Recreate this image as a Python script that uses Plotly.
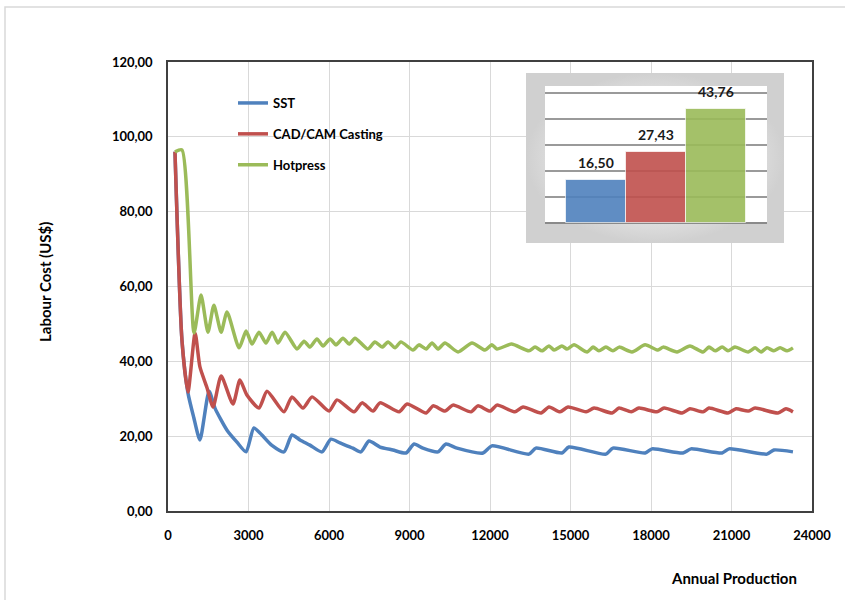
import plotly.graph_objects as go

# ---------------- data ----------------
sst_x = [260, 520, 745, 960, 1190, 1530, 1750, 2200, 2570, 2910, 3200, 3500, 3860, 4320,
         4620, 4920, 5290, 5740, 6070, 6410, 6890, 7190, 7490, 7900, 8380, 8870, 9170, 9500,
         10060, 10360, 10770, 11740, 12070, 13450, 13710, 14680, 14940, 16320, 16580, 17780,
         18040, 19190, 19490, 20650, 20910, 22320, 22580, 23290]
sst_y = [96.0, 45.7, 31.5, 25.0, 19.0, 32.0, 27.5, 21.6, 18.4, 15.8, 22.2, 20.3, 17.6, 15.8,
         20.3, 19.0, 17.6, 15.8, 19.2, 18.2, 16.8, 15.8, 18.7, 17.1, 16.3, 15.5, 17.9, 16.8,
         15.8, 17.9, 16.8, 15.5, 17.4, 15.2, 16.8, 15.5, 17.1, 15.2, 16.8, 15.5,
         16.6, 15.5, 16.6, 15.5, 16.6, 15.2, 16.3, 15.8]

cad_x = [260, 520, 745, 1010, 1190, 1450, 1680, 1980, 2420, 2680, 2940, 3390, 3690, 4320,
         4620, 5030, 5370, 6000, 6300, 6930, 7230, 7640, 7900, 8610, 8910, 9620, 9880, 10320,
         10620, 11290, 11550, 12000, 12260, 12930, 13230, 13900, 14200, 14610, 14910, 15580,
         15880, 16550, 16810, 17260, 17550, 18220, 18490, 19160, 19450, 19940, 20160, 20870,
         21170, 21620, 21880, 22730, 23030, 23290]
cad_y = [96.0, 45.7, 31.8, 47.6, 38.5, 33.0, 27.8, 36.1, 28.6, 35.0, 31.0, 27.5, 32.0, 26.5,
         30.5, 27.5, 30.5, 26.7, 29.7, 26.5, 28.9, 26.7, 28.9, 26.5, 28.6, 26.2, 28.1, 26.7,
         28.3, 26.5, 28.1, 26.7, 28.3, 26.5, 27.8, 26.2, 27.8, 26.5, 27.8, 26.5,
         27.5, 26.2, 27.5, 26.5, 27.5, 26.5, 27.5, 26.2, 27.3, 26.5, 27.5, 26.2,
         27.3, 26.7, 27.5, 26.2, 27.3, 26.5]

hot_x = [260, 520, 970, 1230, 1490, 1710, 1980, 2200, 2650, 2910, 3130, 3390, 3650, 3880,
         4100, 4360, 4810, 5070, 5290, 5550, 5780, 6040, 6260, 6520, 6750, 6970, 7450, 7710,
         7980, 8200, 8460, 8680, 9130, 9350, 9620, 9840, 10060, 10320, 10810, 11330, 11810,
         12070, 12260, 12800, 13450, 13680, 13940, 14200, 14390, 14680, 14870, 15130, 15620,
         15840, 16060, 16320, 16580, 16810, 17290, 17780, 18260, 18450, 18970, 19450, 19940,
         20160, 20390, 20650, 20870, 21130, 21620, 21880, 22100, 22320, 22580, 22810, 23070,
         23290]
hot_y = [96.0, 96.5, 47.6, 57.7, 47.8, 55.0, 47.8, 53.2, 43.6, 48.1, 44.6, 47.8, 44.9, 47.8,
         44.9, 47.8, 43.3, 45.4, 43.8, 46.0, 44.1, 46.0, 44.4, 46.2, 44.6, 46.2, 43.3, 45.2,
         43.8, 45.2, 43.6, 45.2, 43.0, 44.4, 43.3, 44.9, 43.3, 44.9, 42.5, 44.9, 43.0,
         44.4, 43.3, 44.6, 42.8, 43.8, 42.8, 44.1, 43.0, 44.1, 43.3, 44.4, 42.5,
         43.8, 42.8, 43.8, 42.8, 43.8, 42.5, 44.4, 43.0, 43.8, 42.5, 44.1, 42.5,
         43.8, 42.8, 43.8, 42.8, 43.8, 42.5, 43.6, 42.5, 43.6, 42.8, 43.6, 42.8,
         43.6]

series_names = ["SST", "CAD/CAM Casting", "Hotpress"]
series_colors = ["#4F81BD", "#C0504D", "#9BBB59"]

avg_values = [16.50, 27.43, 43.76]

x_ticks = [0, 3000, 6000, 9000, 12000, 15000, 18000, 21000, 24000]
y_ticks = [0, 20, 40, 60, 80, 100, 120]

FONT = "Lato, 'Open Sans', sans-serif"

# ---------------- figure ----------------
fig = go.Figure()

# inset background panel (drawn on its own hidden axes, below the bars)
fig.add_trace(go.Scatter(
    x=[0, 1, 1, 0, 0], y=[0, 0, 1, 1, 0], mode="lines", fill="toself",
    fillgradient=dict(type="radial",
                      colorscale=[[0, "#f8f8f8"], [0.6, "#e8e8e8"], [1, "#d0d0d0"]]),
    line=dict(width=0), xaxis="x2", yaxis="y2", showlegend=False, hoverinfo="skip"))

for name, xs, ys, col, grp in zip(series_names, [sst_x, cad_x, hot_x], [sst_y, cad_y, hot_y],
                                  series_colors, ["a", "b", "c"]):
    fig.add_trace(go.Scatter(
        x=xs, y=ys, name=name, mode="lines", legendgroup=grp,
        line=dict(color=col, width=3.5, shape="spline", smoothing=0.6)))

# inset bar chart
fig.add_trace(go.Bar(
    x=series_names, y=avg_values,
    marker=dict(color=series_colors, opacity=0.9,
                line=dict(color="rgba(255,255,255,0.7)", width=1)),
    xaxis="x3", yaxis="y3", showlegend=False))

# pixel helpers for layout placement
L, R, T, B = 168, 812, 62, 511
def px(xp):
    return (xp - L) / (R - L)
def py(yp):
    return (B - yp) / (B - T)

bar_labels = [
    dict(text=f"{v:.2f}".replace(".", ","), x=n, y=v, xref="x3", yref="y3",
         yanchor="bottom", yshift=7, showarrow=False,
         font=dict(family=FONT, size=14, color="#1a1a1a", weight="bold"))
    for n, v in zip(series_names, avg_values)
]

fig.update_layout(
    width=845, height=600,
    margin=dict(l=L, r=845 - R, t=T, b=600 - B),
    paper_bgcolor="white", plot_bgcolor="white",
    separators=",.",
    font=dict(family=FONT, size=13, color="black"),
    bargap=0,
    xaxis=dict(range=[0, 24000], tickvals=x_ticks, tickformat="d", showgrid=True,
               gridcolor="#d9d9d9", gridwidth=1, showline=True, linecolor="#404040",
               linewidth=1.5, mirror=True, ticks="", zeroline=False, ticklabelstandoff=12,
               tickfont=dict(family=FONT, size=13, color="black", weight="bold")),
    yaxis=dict(range=[0, 120], tickvals=y_ticks, tickformat=".2f", showgrid=True,
               gridcolor="#d9d9d9", gridwidth=1, showline=True, linecolor="#404040",
               linewidth=1.5, mirror=True, ticks="", zeroline=False, ticklabelstandoff=11,
               tickfont=dict(family=FONT, size=13, color="black", weight="bold")),
    xaxis2=dict(domain=[px(526), px(784)], range=[0, 1], visible=False, anchor="y2"),
    yaxis2=dict(domain=[py(243), py(73)], range=[0, 1], visible=False, anchor="x2"),
    xaxis3=dict(domain=[px(545), px(767)], range=[-0.85, 2.85], showticklabels=False,
                showgrid=False, showline=False, ticks="", anchor="y3"),
    yaxis3=dict(domain=[py(223), py(86)], range=[0, 52.7], dtick=10, showticklabels=False,
                showgrid=True, gridcolor="#9a9a9a", gridwidth=1.5, zeroline=True,
                zerolinecolor="#8a8a8a", zerolinewidth=1.5, showline=False, ticks="",
                anchor="x3"),
    legend=dict(x=px(233), y=py(88), xanchor="left", yanchor="top",
                bgcolor="rgba(0,0,0,0)", tracegroupgap=11,
                font=dict(family=FONT, size=13, color="black", weight="bold")),
    showlegend=True,
    annotations=bar_labels + [
        dict(text="Annual Production", xref="paper", yref="paper", x=px(734), y=py(578),
             xanchor="center", yanchor="middle", showarrow=False,
             font=dict(family=FONT, size=15, color="black", weight="bold")),
        dict(text="Labour Cost (US$)", xref="paper", yref="paper", x=px(45), y=py(282),
             xanchor="center", yanchor="middle", textangle=-90, showarrow=False,
             font=dict(family=FONT, size=15, color="black", weight="bold")),
    ],
    shapes=[
        dict(type="rect", xref="paper", yref="paper", x0=px(5), x1=px(860), y0=py(620),
             y1=py(7), line=dict(color="#d9d9d9", width=1.5), layer="below"),
    ],
)

fig.write_html("out.html", config={"displayModeBar": False},
               post_script="document.body.style.margin='0';document.body.style.padding='0';")
